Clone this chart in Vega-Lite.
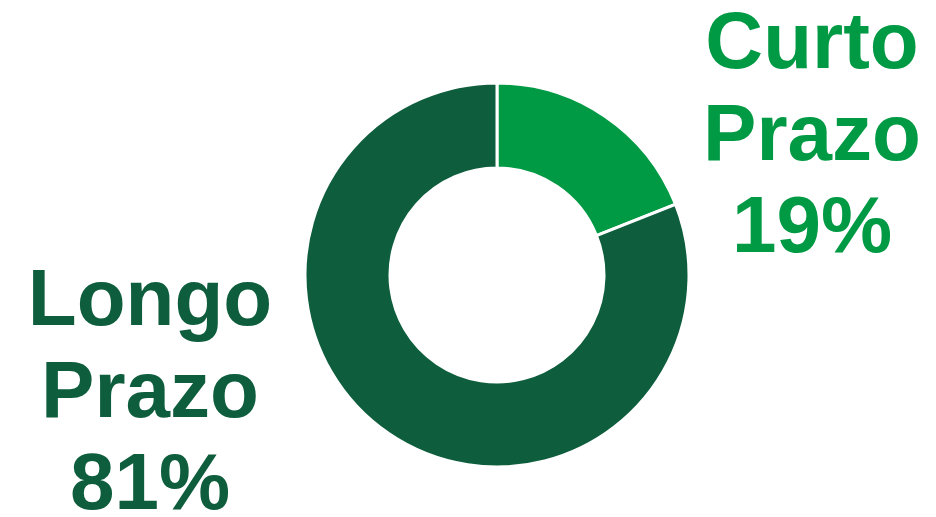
{
  "$schema": "https://vega.github.io/schema/vega-lite/v6.json",
  "width": 878,
  "height": 484,
  "padding": {"left": 58, "top": 33, "right": 0, "bottom": 0},
  "autosize": {"type": "none"},
  "background": "white",
  "config": {
    "view": {"stroke": "transparent"}
  },
  "data": {
    "values": [
      {"prazo": "Curto Prazo", "valor": 19, "rotulo": "Curto\nPrazo\n19%"},
      {"prazo": "Longo Prazo", "valor": 81, "rotulo": "Longo\nPrazo\n81%"}
    ]
  },
  "encoding": {
    "color": {
      "field": "prazo",
      "type": "nominal",
      "scale": {"domain": ["Curto Prazo", "Longo Prazo"], "range": ["#009a44", "#0e5e3e"]},
      "legend": null
    }
  },
  "layer": [
    {
      "mark": {"type": "arc", "outerRadius": 192, "innerRadius": 107, "stroke": "white", "strokeWidth": 3},
      "encoding": {
        "theta": {"field": "valor", "type": "quantitative", "stack": true},
        "order": {"field": "prazo", "sort": "ascending"}
      }
    },
    {
      "mark": {
        "type": "text",
        "font": "Liberation Sans",
        "fontWeight": "bold",
        "fontSize": 80,
        "lineHeight": 92,
        "lineBreak": "\n",
        "align": "center",
        "baseline": "middle"
      },
      "encoding": {
        "x": {
          "field": "prazo",
          "type": "nominal",
          "scale": {"type": "point", "domain": ["Curto Prazo", "Longo Prazo"], "range": [754, 92], "padding": 0},
          "axis": null
        },
        "y": {
          "field": "prazo",
          "type": "nominal",
          "scale": {"type": "point", "domain": ["Curto Prazo", "Longo Prazo"], "range": [11, 268], "padding": 0},
          "axis": null
        },
        "text": {"field": "rotulo", "type": "nominal"}
      }
    }
  ]
}
